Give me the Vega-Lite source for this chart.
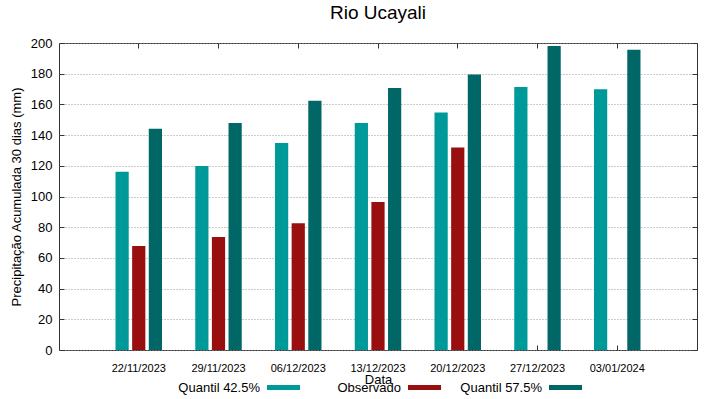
{
  "$schema": "https://vega.github.io/schema/vega-lite/v6.json",
  "width": 638,
  "height": 307,
  "autosize": "none",
  "padding": {"left": 59, "top": 43, "right": 22, "bottom": 49},
  "background": "white",
  "config": {
    "font": "Liberation Sans",
    "view": {"stroke": "#333333", "strokeWidth": 1},
    "legend": {
      "orient": "none", "direction": "horizontal", "title": null,
      "symbolType": "M-1,-0.15H1V0.15H-1Z", "symbolSize": 1089, "symbolStrokeWidth": 0,
      "labelFontSize": 13, "labelColor": "#000000", "labelAlign": "right", "labelOffset": -40
    }
  },
  "title": {
    "text": "Rio Ucayali",
    "fontSize": 19,
    "fontWeight": "normal",
    "font": "Liberation Sans",
    "color": "#000000",
    "anchor": "middle",
    "baseline": "alphabetic",
    "offset": -1
  },
  "data": {
    "values": [
      {"data": "22/11/2023", "serie": "Quantil 42.5%", "valor": 116.2},
      {"data": "22/11/2023", "serie": "Observado", "valor": 67.7},
      {"data": "22/11/2023", "serie": "Quantil 57.5%", "valor": 144.2},
      {"data": "29/11/2023", "serie": "Quantil 42.5%", "valor": 119.9},
      {"data": "29/11/2023", "serie": "Observado", "valor": 73.6},
      {"data": "29/11/2023", "serie": "Quantil 57.5%", "valor": 147.9},
      {"data": "06/12/2023", "serie": "Quantil 42.5%", "valor": 134.9},
      {"data": "06/12/2023", "serie": "Observado", "valor": 82.5},
      {"data": "06/12/2023", "serie": "Quantil 57.5%", "valor": 162.4},
      {"data": "13/12/2023", "serie": "Quantil 42.5%", "valor": 147.9},
      {"data": "13/12/2023", "serie": "Observado", "valor": 96.4},
      {"data": "13/12/2023", "serie": "Quantil 57.5%", "valor": 170.7},
      {"data": "20/12/2023", "serie": "Quantil 42.5%", "valor": 154.8},
      {"data": "20/12/2023", "serie": "Observado", "valor": 132.0},
      {"data": "20/12/2023", "serie": "Quantil 57.5%", "valor": 179.5},
      {"data": "27/12/2023", "serie": "Quantil 42.5%", "valor": 171.3},
      {"data": "27/12/2023", "serie": "Quantil 57.5%", "valor": 198.0},
      {"data": "03/01/2024", "serie": "Quantil 42.5%", "valor": 169.8},
      {"data": "03/01/2024", "serie": "Quantil 57.5%", "valor": 195.6}
    ]
  },
  "layer": [
    {
      "mark": {"type": "bar", "opacity": 0},
      "encoding": {
        "x": {
          "field": "data", "type": "nominal", "sort": null,
          "scale": {"paddingInner": 0, "paddingOuter": 0.5},
          "axis": {"orient": "top", "labels": false, "title": null, "domain": false, "grid": false, "tickSize": -5, "tickColor": "#333333"}
        },
        "xOffset": {
          "field": "serie", "type": "nominal",
          "scale": {"domain": ["Quantil 42.5%", "Observado", "Quantil 57.5%"], "paddingInner": 0.206, "paddingOuter": 1.095}
        },
        "y": {
          "field": "valor", "type": "quantitative",
          "scale": {"domain": [0, 200], "nice": false},
          "axis": {"orient": "right", "labels": false, "title": null, "domain": false, "grid": false, "tickCount": 10, "tickSize": -5, "tickColor": "#333333"}
        }
      }
    },
    {
      "transform": [{"filter": "datum.serie == 'Quantil 42.5%'"}],
      "mark": {"type": "bar"},
      "encoding": {
        "x": {
          "field": "data", "type": "nominal", "sort": null,
          "axis": {
            "orient": "bottom", "title": "Data", "labelAngle": 0, "labelFontSize": 11, "labelColor": "#000000",
            "labelPadding": 17, "titleFontSize": 13, "titleFontWeight": "normal", "titleColor": "#000000", "titlePadding": 0,
            "domain": false, "grid": false, "tickSize": -5, "tickColor": "#333333"
          }
        },
        "xOffset": {"field": "serie", "type": "nominal"},
        "y": {
          "field": "valor", "type": "quantitative",
          "axis": {
            "orient": "left", "title": "Precipitação Acumulada 30 dias (mm)", "tickCount": 10,
            "labelFontSize": 13, "labelColor": "#000000", "labelPadding": 12,
            "titleFontSize": 13, "titleFontWeight": "normal", "titleColor": "#000000", "titlePadding": 7,
            "domain": false, "grid": true, "gridColor": "#999999", "gridDash": [1, 2], "gridWidth": 1,
            "tickSize": -5, "tickColor": "#333333"
          }
        },
        "color": {
          "field": "serie", "type": "nominal",
          "scale": {"domain": ["Quantil 42.5%"], "range": ["#009999"]},
          "legend": {"legendX": 208, "legendY": 328}
        }
      }
    },
    {
      "transform": [{"filter": "datum.serie == 'Observado'"}],
      "mark": {"type": "bar"},
      "encoding": {
        "x": {"field": "data", "type": "nominal", "sort": null, "axis": null},
        "xOffset": {"field": "serie", "type": "nominal"},
        "y": {"field": "valor", "type": "quantitative", "axis": null},
        "color": {
          "field": "serie", "type": "nominal",
          "scale": {"domain": ["Observado"], "range": ["#990e0e"]},
          "legend": {"legendX": 349, "legendY": 328}
        }
      }
    },
    {
      "transform": [{"filter": "datum.serie == 'Quantil 57.5%'"}],
      "mark": {"type": "bar"},
      "encoding": {
        "x": {"field": "data", "type": "nominal", "sort": null, "axis": null},
        "xOffset": {"field": "serie", "type": "nominal"},
        "y": {"field": "valor", "type": "quantitative", "axis": null},
        "color": {
          "field": "serie", "type": "nominal",
          "scale": {"domain": ["Quantil 57.5%"], "range": ["#006666"]},
          "legend": {"legendX": 490, "legendY": 328}
        }
      }
    }
  ],
  "resolve": {"axis": {"x": "independent", "y": "independent"}, "scale": {"color": "independent"}}
}
